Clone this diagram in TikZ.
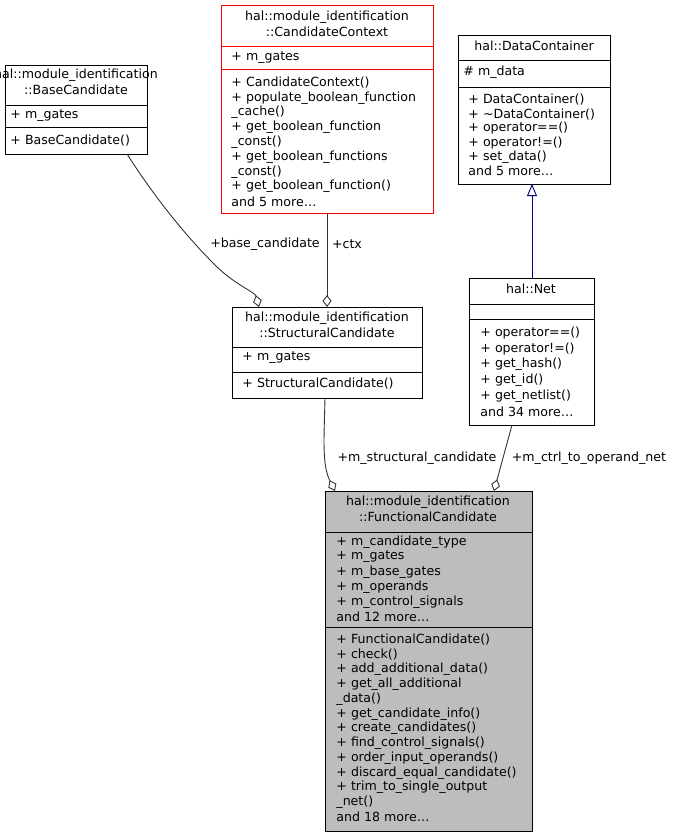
\documentclass[tikz,border=0pt]{standalone}
\usepackage{fontspec}
\setmainfont{DejaVu Sans}
\usetikzlibrary{arrows.meta}
\begin{document}
\begin{tikzpicture}[x=1pt,y=-1pt,line width=0.9pt,
  box/.style={draw,anchor=north west,inner sep=0,outer sep=0},
  t/.style={anchor=west,inner sep=0,font=\fontsize{12.6}{14}\selectfont},
  c/.style={anchor=center,inner sep=0,font=\fontsize{12.6}{14}\selectfont},
  lab/.style={inner sep=1,font=\fontsize{12.6}{14}\selectfont},
  agg/.style={draw=black!80,-{Diamond[open,length=12,width=9]}},
  inh/.style={draw=blue!50!black,-{Triangle[open,length=12,width=10]}}]
\useasboundingbox (0,0) rectangle (675,837);
% BaseCandidate
\node[box,minimum width=142,minimum height=89] (bc) at (5,65) {};
\draw (5,105)--(147,105) (5,127)--(147,127);
\node[c] at (76,75) {hal::module\_identification};
\node[c] at (76,90) {::BaseCandidate};
\node[t] at (10,116) {+ m\_gates};
\node[t] at (10,141) {+ BaseCandidate()};
% CandidateContext
\node[box,draw=red,minimum width=212,minimum height=208] (cc) at (221,5) {};
\draw[red] (221,46)--(433,46) (221,69)--(433,69);
\node[c] at (327,17) {hal::module\_identification};
\node[c] at (327,32) {::CandidateContext};
\node[t] at (231,58) {+ m\_gates};
\foreach \s [count=\i from 0] in {{+ CandidateContext()},{+ populate\_boolean\_function},{\_cache()},{+ get\_boolean\_function},{\_const()},{+ get\_boolean\_functions},{\_const()},{+ get\_boolean\_function()},{and 5 more\ldots}}
  \node[t] at (231,83+14.8*\i) {\s};
% DataContainer
\node[box,minimum width=152,minimum height=149] (dc) at (458,35) {};
\draw (458,60)--(610,60) (458,87)--(610,87);
\node[c] at (534,46) {hal::DataContainer};
\node[t] at (463,72) {\# m\_data};
\foreach \s [count=\i from 0] in {{+ DataContainer()},{+ \char"223C DataContainer()},{+ operator==()},{+ operator!=()},{+ set\_data()},{and 5 more\ldots}}
  \node[t] at (468,100+14.2*\i) {\s};
% Net
\node[box,minimum width=125,minimum height=147] (net) at (469,278) {};
\draw (469,304)--(594,304) (469,319)--(594,319);
\node[c] at (531,289) {hal::Net};
\foreach \s [count=\i from 0] in {{+ operator==()},{+ operator!=()},{+ get\_hash()},{+ get\_id()},{+ get\_netlist()},{and 34 more\ldots}}
  \node[t] at (480,333+15.8*\i) {\s};
% StructuralCandidate
\node[box,minimum width=190,minimum height=91] (sc) at (232,307) {};
\draw (232,347)--(422,347) (232,372)--(422,372);
\node[c] at (327,318) {hal::module\_identification};
\node[c] at (327,333) {::StructuralCandidate};
\node[t] at (242,358) {+ m\_gates};
\node[t] at (242,384) {+ StructuralCandidate()};
% FunctionalCandidate
\node[box,fill=black!26,minimum width=207,minimum height=340] (fc) at (325,491) {};
\draw (325,532)--(532,532) (325,627)--(532,627);
\node[c] at (428,502) {hal::module\_identification};
\node[c] at (428,517) {::FunctionalCandidate};
\foreach \s [count=\i from 0] in {{+ m\_candidate\_type},{+ m\_gates},{+ m\_base\_gates},{+ m\_operands},{+ m\_control\_signals},{and 12 more\ldots}}
  \node[t] at (336,542+15*\i) {\s};
\foreach \s [count=\i from 0] in {{+ FunctionalCandidate()},{+ check()},{+ add\_additional\_data()},{+ get\_all\_additional},{\_data()},{+ get\_candidate\_info()},{+ create\_candidates()},{+ find\_control\_signals()},{+ order\_input\_operands()},{+ discard\_equal\_candidate()},{+ trim\_to\_single\_output},{\_net()},{and 18 more\ldots}}
  \node[t] at (336,640+14.75*\i) {\s};
% connectors
\draw[agg] ([xshift=-20]bc.south east) .. controls (150,190) and (180,230) .. (215,265) .. controls (235,285) and (255,292) .. ([xshift=27]sc.north west);
\node[lab] at (265,244) {+base\_candidate};
\draw[agg] (cc.south) -- (sc.north);
\node[lab] at (347,244) {+ctx};
\draw[inh] (532,278) -- (532,184);
\draw[agg] ([xshift=-2]sc.south) .. controls (324,440) and (322,465) .. ([xshift=10]fc.north west);
\node[lab] at (417,458) {+m\_structural\_candidate};
\draw[agg] ([xshift=43]net.south west) -- ([xshift=-38]fc.north east);
\node[lab] at (589,458) {+m\_ctrl\_to\_operand\_net};
\end{tikzpicture}
\end{document}
